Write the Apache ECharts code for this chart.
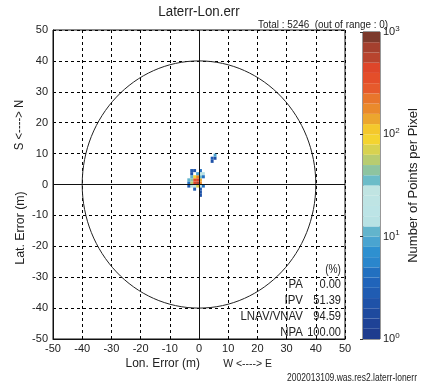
<!DOCTYPE html>
<html>
<head>
<meta charset="utf-8">
<script src="https://cdn.jsdelivr.net/npm/echarts@6/dist/echarts.min.js"></script>
<style>
  html, body { margin: 0; padding: 0; background: #fff; }
  #main { width: 421px; height: 383px; }
</style>
</head>
<body>
<div id="main"></div>
<script>
// 1m x 1m cells: lower-left corner (x, y) and point count
const cellX = [-2, -1, -2, -1, 0, 0, -1, -2, -3, -3, -1, -2, 0, 0, -3, -3, -4, -4, -4, 0, 1, 1, -3, -3, -2, 0, -1, 1, 0, 0, 0, -2, 4, 4, 5, 5]
const cellY = [0, 0, 1, 1, 0, 1, 2, 2, 0, 1, -1, -1, -1, 2, 2, -1, 0, -1, 1, 3, 3, 2, 4, 3, 4, 4, 3, -1, -2, -3, -4, -2, 7, 8, 8, 9]
const cellCount = [480, 560, 390, 430, 160, 140, 190, 95, 60, 45, 70, 28, 24, 32, 12, 14, 5, 3, 12, 20, 15, 5, 3, 2, 2, 4, 8, 4, 3, 2, 2, 3, 2, 3, 2, 8]

const ringRadius = [40]

const statLabels = ['PA', 'IPV', 'LNAV/VNAV', 'NPA']
const statValues = ['0.00', '51.39', '94.59', '100.00']

const cbLabels = [1, 10, 100, 1000]

// colour bands, 0.1 decade each, from 10^0 up to 10^3
const palette = [
  '#1e3c8e', '#1e4296', '#1e4a9e', '#1f52a8', '#205cb2', '#2064ba', '#2270c0', '#2a86cc', '#2e90d0', '#4aa4d0',
  '#62b4cc', '#b8e2e4', '#bce4e6', '#bee4e4', '#c0e4e2', '#6cbcc8', '#8ec4a0', '#b8cc70', '#d8d250', '#f4d430',
  '#f4c82c', '#eca62e', '#ea8a2c', '#e8762c', '#e65a2c', '#e44e2a', '#de462a', '#b8442e', '#a4402e', '#7c3a2c'
]

const FONT = "'Liberation Sans', Arial, sans-serif"
const INK = '#222'

const chart = echarts.init(document.getElementById('main'))

const cells = cellX.map((x, i) => [x, cellY[i], Math.log10(cellCount[i]), cellCount[i]])

// narrow text, like the original's condensed font
const label = (text, x, y, size, align, sx) => ({
  type: 'text', x, y, scaleX: sx || 1,
  style: { text, fontFamily: FONT, fontSize: size, fill: INK, align, verticalAlign: 'middle' }
})

chart.setOption({
  animation: false,
  grid: [
    { left: 53, top: 30, width: 292, height: 309, show: true, borderColor: '#111', borderWidth: 1 },
    { left: 363, top: 32, width: 24, height: 307, show: true, borderColor: '#333', borderWidth: 1 }
  ],
  xAxis: [
    {
      gridIndex: 0,
      type: 'value',
      min: -50,
      max: 50,
      interval: 10,
      axisLine: { onZero: false, lineStyle: { color: '#111' } },
      axisTick: { show: false },
      axisLabel: { fontFamily: FONT, fontSize: 11, color: INK, margin: 4 },
      splitLine: { lineStyle: { color: '#000', type: [3, 3], width: 1 } }
    },
    { gridIndex: 1, type: 'value', min: 0, max: 1, show: false }
  ],
  yAxis: [
    {
      gridIndex: 0,
      type: 'value',
      min: -50,
      max: 50,
      interval: 10,
      axisLine: { onZero: false, lineStyle: { color: '#111' } },
      axisTick: { show: false },
      axisLabel: { fontFamily: FONT, fontSize: 11, color: INK, margin: 5 },
      splitLine: { lineStyle: { color: '#000', type: [3, 3], width: 1 } }
    },
    {
      gridIndex: 1,
      type: 'log',
      logBase: 10,
      min: 1,
      max: 1000,
      position: 'right',
      name: 'Number of Points per Pixel',
      nameLocation: 'middle',
      nameRotate: 90,
      nameGap: 27,
      nameTextStyle: { fontFamily: FONT, fontSize: 13, color: INK },
      axisLine: { show: false },
      axisTick: { show: true, inside: true, length: 3, lineStyle: { color: '#333' } },
      splitLine: { show: false },
      axisLabel: {
        margin: 3,
        formatter: v => '{b|10}{s|' + Math.round(Math.log10(v)) + '}',
        rich: {
          b: { fontFamily: FONT, fontSize: 11, color: INK },
          s: { fontFamily: FONT, fontSize: 8, color: INK, padding: [0, 0, 7, 0] }
        }
      },
      data: cbLabels
    }
  ],
  visualMap: {
    type: 'piecewise',
    show: false,
    seriesIndex: 0,
    dimension: 2,
    pieces: palette.map((c, i) => ({ min: i * 0.1, max: (i + 1) * 0.1, color: c }))
  },
  series: [
    {
      type: 'custom',
      xAxisIndex: 0,
      yAxisIndex: 0,
      data: cells,
      renderItem: (params, api) => {
        const p = api.coord([api.value(0), api.value(1) + 1])
        const s = api.size([1, 1])
        return {
          type: 'rect',
          shape: { x: p[0], y: p[1], width: s[0], height: s[1] },
          style: { fill: api.visual('color') }
        }
      },
      markLine: {
        silent: true,
        symbol: 'none',
        label: { show: false },
        lineStyle: { color: '#111', type: 'solid', width: 1 },
        data: [{ xAxis: 0 }, { yAxis: 0 }]
      }
    },
    {
      type: 'custom',
      xAxisIndex: 0,
      yAxisIndex: 0,
      data: ringRadius.map(r => [0, 0, r]),
      renderItem: (params, api) => {
        const c = api.coord([api.value(0), api.value(1)])
        const r = api.size([api.value(2), api.value(2)])
        return {
          type: 'ellipse',
          shape: { cx: c[0], cy: c[1], rx: r[0], ry: r[1] },
          style: { fill: 'none', stroke: '#222', lineWidth: 1 }
        }
      }
    },
    {
      type: 'custom',
      xAxisIndex: 1,
      yAxisIndex: 1,
      data: palette.map((c, i) => [i]),
      renderItem: (params, api) => {
        const i = api.value(0)
        const top = api.coord([0, Math.pow(10, (i + 1) * 0.1)])
        const bot = api.coord([1, Math.pow(10, i * 0.1)])
        return {
          type: 'rect',
          shape: { x: top[0], y: top[1], width: bot[0] - top[0], height: bot[1] - top[1] },
          style: { fill: palette[i] }
        }
      }
    }
  ],
  graphic: [
    label('Laterr-Lon.err', 199, 12, 14, 'center', 0.95),
    label('Total : 5246  (out of range : 0)', 388, 25, 11, 'right', 0.9),
    { ...label('Lat. Error (m)', 20, 228, 13, 'center', 0.95), rotation: Math.PI / 2 },
    { ...label('S <----> N', 20, 125, 12, 'center', 0.95), rotation: Math.PI / 2 },
    label('Lon. Error (m)', 200, 363, 13, 'right', 0.92),
    label('W <----> E', 272, 364, 11, 'right', 0.95),
    label('(%)', 341, 270, 12, 'right', 0.85),
    ...statLabels.map((t, i) => label(t, 303, 284 + i * 16, 13, 'right', 0.88)),
    ...statValues.map((t, i) => label(t, 341, 284 + i * 16, 13, 'right', 0.85)),
    label('2002013109.was.res2.laterr-lonerr', 417, 378, 10, 'right', 0.85)
  ]
})
</script>
</body>
</html>
